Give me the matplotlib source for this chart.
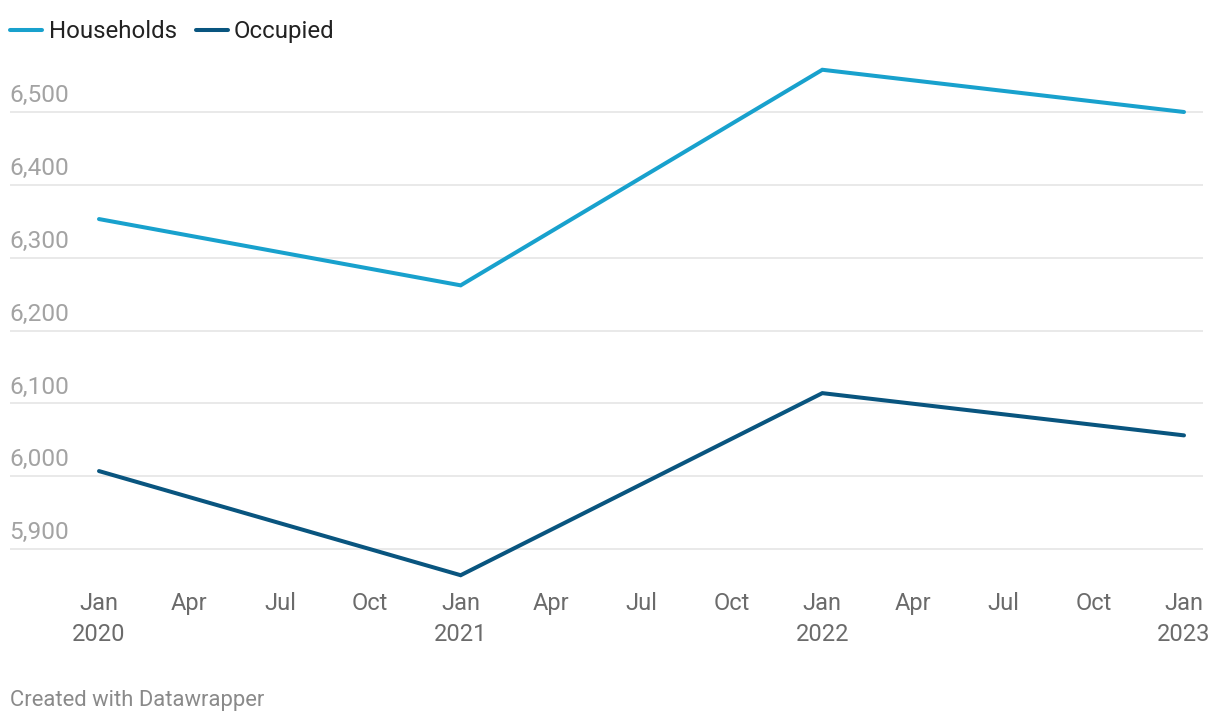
import matplotlib
matplotlib.use("Agg")
import matplotlib.pyplot as plt
from matplotlib.lines import Line2D

plt.rcParams['font.family'] = ['Roboto', 'DejaVu Sans']

# Data (months since Jan 2020)
months = [0, 12, 24, 36]
series_names = ["Households", "Occupied"]
households = [6353, 6262, 6558, 6500]
occupied = [6007, 5864, 6114, 6056]
colors = ["#18a1cd", "#09557f"]

y_ticks = [5900, 6000, 6100, 6200, 6300, 6400, 6500]
x_tick_pos = [0, 3, 6, 9, 12, 15, 18, 21, 24, 27, 30, 33, 36]
x_tick_labels = ["Jan\n2020", "Apr", "Jul", "Oct", "Jan\n2021", "Apr", "Jul", "Oct",
                 "Jan\n2022", "Apr", "Jul", "Oct", "Jan\n2023"]

W, H = 1220, 722
fig = plt.figure(figsize=(W / 100, H / 100), dpi=100)

# axes in pixel coords
ax_left, ax_right = 10, 1203
ax_top, ax_bottom = 50, 585
ax = fig.add_axes([ax_left / W, 1 - ax_bottom / H, (ax_right - ax_left) / W, (ax_bottom - ax_top) / H])

# x mapping: Jan 2020 at px 99, Jan 2023 at px 1184
px_per_month = (1184 - 99) / 36
ax.set_xlim((ax_left - 99) / px_per_month, (ax_right - 99) / px_per_month)
# y mapping: 6500 at px 112, 5900 at px 549
px_per_unit = (549 - 112) / 600
ax.set_ylim(6500 - (ax_bottom - 112) / px_per_unit, 6500 + (112 - ax_top) / px_per_unit)

for yv in y_ticks:
    ax.axhline(yv, color="#e5e5e5", lw=1.2, zorder=1)
    ax.annotate(f"{yv:,}", xy=(0, yv), xycoords=ax.get_yaxis_transform(),
                xytext=(-0.5, 7), textcoords="offset points", ha="left", va="baseline",
                fontsize=17.6, color="#a3a3a3")

for vals, c in zip([households, occupied], colors):
    ax.plot(months, vals, color=c, lw=2.9, solid_capstyle="round", solid_joinstyle="miter", zorder=3)

ax.set_yticks([])
ax.set_xticks(x_tick_pos)
ax.set_xticklabels(x_tick_labels, fontsize=17, color="#6b6b6b", linespacing=1.42)
ax.tick_params(axis="x", length=0, pad=5)
for s in ax.spines.values():
    s.set_visible(False)

# Legend
leg_items = [(10, 49), (196, 234)]
for (lx, tx), name, c in zip(leg_items, series_names, colors):
    fig.add_artist(Line2D([lx / W, (lx + 32) / W], [1 - 30 / H, 1 - 30 / H],
                          color=c, lw=2.9, solid_capstyle="round"))
    fig.text(tx / W, 1 - 31.5 / H, name, fontsize=17.3, color="#222222", ha="left", va="center")

fig.text(10 / W, 1 - 706 / H, "Created with Datawrapper", fontsize=15.8, color="#8a8a8a",
         ha="left", va="baseline")

fig.savefig("out.png", dpi=100, facecolor="white")
